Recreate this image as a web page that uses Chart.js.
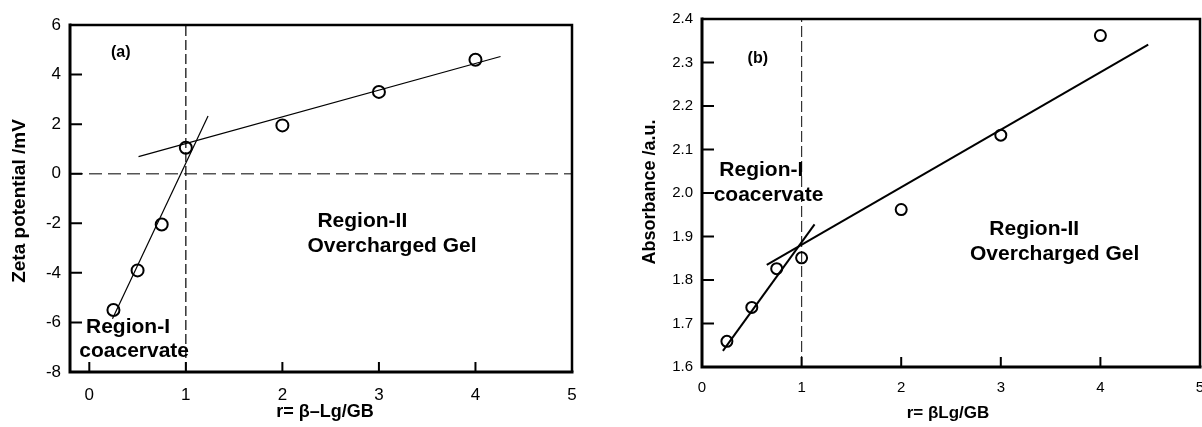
<!DOCTYPE html>
<html>
<head>
<meta charset="utf-8">
<script src="https://cdn.jsdelivr.net/npm/chart.js@4"></script>
<style>
  html, body { margin: 0; padding: 0; background: #fff; }
  #wrap { position: relative; width: 1202px; height: 427px; overflow: hidden; }
  #chartA { position: absolute; left: 0; top: 0; }
  #chartB { position: absolute; left: 600px; top: 0; }
</style>
</head>
<body>
<div id="wrap">
  <canvas id="chartA" width="590" height="427"></canvas>
  <canvas id="chartB" width="602" height="427"></canvas>
</div>
<script>
// (a) zeta potential vs ratio
const ratioA = [0.25, 0.5, 0.75, 1, 2, 3, 4]
const zeta = [-5.5, -3.9, -2.05, 1.05, 1.95, 3.3, 4.6]
// fitted lines, end points
const fitA1X = [0.24, 1.23]
const fitA1Y = [-5.85, 2.33]
const fitA2X = [0.51, 4.26]
const fitA2Y = [0.69, 4.73]
const xTicksA = [0, 1, 2, 3, 4, 5]
const yTicksA = [-8, -6, -4, -2, 0, 2, 4, 6]

// (b) absorbance vs ratio
const ratioB = [0.25, 0.5, 0.75, 1, 2, 3, 4]
const absorb = [1.659, 1.737, 1.826, 1.851, 1.962, 2.133, 2.362]
const fitB1X = [0.21, 1.13]
const fitB1Y = [1.637, 1.928]
const fitB2X = [0.65, 4.48]
const fitB2Y = [1.835, 2.341]
const xTicksB = [0, 1, 2, 3, 4, 5]
const yTicksB = [1.6, 1.7, 1.8, 1.9, 2.0, 2.1, 2.2, 2.3, 2.4]

Chart.defaults.font.family = '"Liberation Sans", Arial, sans-serif'
Chart.defaults.color = '#000'

const toPts = (xs, ys) => xs.map((x, i) => ({ x: x, y: ys[i] }))

// frame, inward tick marks, text labels and axis titles
const framePlugin = {
  id: 'framePlugin',
  afterDatasetsDraw(chart, args, o) {
    const { ctx, chartArea: { left, top, right, bottom }, scales: { x, y } } = chart
    ctx.save()
    ctx.strokeStyle = '#000'
    ctx.lineWidth = 2
    ctx.beginPath()
    x.ticks.forEach(t => {
      const px = x.getPixelForValue(t.value)
      if (px > left + 3 && px < right - 3) {
        ctx.moveTo(px, bottom)
        ctx.lineTo(px, bottom - o.xTickLen)
      }
    })
    y.ticks.forEach(t => {
      const py = y.getPixelForValue(t.value)
      if (py > top + 3 && py < bottom - 3) {
        ctx.moveTo(left, py)
        ctx.lineTo(left + o.yTickLen, py)
      }
    })
    ctx.stroke()
    // thin top / right
    ctx.lineWidth = 2.5
    ctx.beginPath()
    ctx.moveTo(left, top)
    ctx.lineTo(right, top)
    ctx.lineTo(right, bottom)
    ctx.stroke()
    // heavy left / bottom
    ctx.lineWidth = 3
    ctx.beginPath()
    ctx.moveTo(left, top - 1.5)
    ctx.lineTo(left, bottom)
    ctx.lineTo(right + 1.5, bottom)
    ctx.stroke()

    ctx.fillStyle = '#000'
    ctx.textBaseline = 'middle'
    ctx.textAlign = 'left'
    o.notes.forEach(n => {
      ctx.font = 'bold ' + n.size + 'px "Liberation Sans", Arial, sans-serif'
      ctx.fillText(n.text, x.getPixelForValue(n.x), y.getPixelForValue(n.y))
    })

    ctx.textAlign = 'center'
    ctx.font = 'bold ' + o.xTitle.size + 'px "Liberation Sans", Arial, sans-serif'
    ctx.fillText(o.xTitle.text, o.xTitle.px, o.xTitle.py)
    ctx.save()
    ctx.translate(o.yTitle.px, o.yTitle.py)
    ctx.rotate(-Math.PI / 2)
    ctx.font = 'bold ' + o.yTitle.size + 'px "Liberation Sans", Arial, sans-serif'
    ctx.fillText(o.yTitle.text, 0, 0)
    ctx.restore()
    ctx.restore()
  },
}

function makeChart(id, s) {
  const ctx = document.getElementById(id).getContext('2d')
  const datasets = [
    {
      data: s.points,
      showLine: false,
      pointStyle: 'circle',
      pointRadius: s.pointRadius,
      pointBorderWidth: 2,
      pointBorderColor: '#000',
      pointBackgroundColor: 'rgba(0,0,0,0)',
    },
  ]
  s.fits.forEach(f => {
    datasets.push({
      data: f,
      showLine: true,
      borderColor: '#000',
      borderWidth: s.fitWidth,
      pointRadius: 0,
    })
  })
  s.dashes.forEach(d => {
    datasets.push({
      data: d.data,
      showLine: true,
      borderColor: d.color,
      borderWidth: d.width,
      borderDash: d.dash,
      pointRadius: 0,
    })
  })

  return new Chart(ctx, {
    type: 'scatter',
    data: { datasets: datasets },
    options: {
      responsive: false,
      animation: false,
      layout: { padding: s.padding, autoPadding: false },
      plugins: {
        legend: { display: false },
        tooltip: { enabled: false },
        framePlugin: s.frame,
      },
      scales: {
        x: {
          type: 'linear',
          min: s.xMin,
          max: s.xMax,
          grid: { display: false, drawTicks: false },
          border: { display: false },
          afterBuildTicks: sc => { sc.ticks = s.xTicks.map(v => ({ value: v })) },
          // fixed axis box; let the last label hang over the edge
          afterFit: sc => {
            sc.height = s.xAxisH
            sc.paddingLeft = 0
            sc.paddingRight = 0
          },
          ticks: {
            padding: s.xPad,
            font: { size: s.tickSize },
            maxRotation: 0,
            callback: v => String(v),
          },
        },
        y: {
          type: 'linear',
          min: s.yMin,
          max: s.yMax,
          grid: { display: false, drawTicks: false },
          border: { display: false },
          afterBuildTicks: sc => { sc.ticks = s.yTicks.map(v => ({ value: v })) },
          afterFit: sc => {
            sc.width = s.yAxisW
            sc.paddingTop = 0
            sc.paddingBottom = 0
          },
          ticks: {
            padding: s.yPad,
            font: { size: s.tickSize },
            callback: s.yFmt,
          },
        },
      },
    },
    plugins: [framePlugin],
  })
}

makeChart('chartA', {
  points: toPts(ratioA, zeta),
  fits: [toPts(fitA1X, fitA1Y), toPts(fitA2X, fitA2Y)],
  dashes: [
    { data: [{ x: 1, y: -8 }, { x: 1, y: 6 }], color: '#000', width: 1.2, dash: [10, 4] },
    { data: [{ x: -0.2, y: 0 }, { x: 5, y: 0 }], color: '#555', width: 1.5, dash: [13, 6] },
  ],
  pointRadius: 6,
  fitWidth: 1.2,
  xMin: -0.2, xMax: 5, yMin: -8, yMax: 6,
  xTicks: xTicksA, yTicks: yTicksA,
  yFmt: v => String(v),
  padding: { left: 0, top: 25, right: 18, bottom: 0 },
  xAxisH: 55, yAxisW: 70,
  xPad: 13, yPad: 9, tickSize: 17,
  frame: {
    xTickLen: 10, yTickLen: 12,
    notes: [
      { text: '(a)', x: 0.225, y: 4.9, size: 16 },
      { text: 'Region-I', x: -0.034, y: -6.21, size: 21 },
      { text: 'coacervate', x: -0.104, y: -7.18, size: 21 },
      { text: 'Region-II', x: 2.363, y: -1.9, size: 21 },
      { text: 'Overcharged Gel', x: 2.259, y: -2.91, size: 21 },
    ],
    xTitle: { text: 'r= β–Lg/GB', px: 325, py: 412, size: 18 },
    yTitle: { text: 'Zeta potential /mV', px: 20, py: 201, size: 19 },
  },
})

makeChart('chartB', {
  points: toPts(ratioB, absorb),
  fits: [toPts(fitB1X, fitB1Y), toPts(fitB2X, fitB2Y)],
  dashes: [
    { data: [{ x: 1, y: 1.6 }, { x: 1, y: 2.4 }], color: '#333', width: 1.2, dash: [11, 4] },
  ],
  pointRadius: 5.5,
  fitWidth: 2,
  xMin: 0, xMax: 5, yMin: 1.6, yMax: 2.4,
  xTicks: xTicksB, yTicks: yTicksB,
  yFmt: v => v.toFixed(1),
  padding: { left: 0, top: 19, right: 2, bottom: 0 },
  xAxisH: 60, yAxisW: 102,
  xPad: 12, yPad: 9, tickSize: 15,
  frame: {
    xTickLen: 10, yTickLen: 12,
    notes: [
      { text: '(b)', x: 0.458, y: 2.31, size: 16 },
      { text: 'Region-I', x: 0.174, y: 2.052, size: 21 },
      { text: 'coacervate', x: 0.117, y: 1.996, size: 21 },
      { text: 'Region-II', x: 2.885, y: 1.916, size: 21 },
      { text: 'Overcharged Gel', x: 2.691, y: 1.859, size: 21 },
    ],
    xTitle: { text: 'r= βLg/GB', px: 348, py: 413, size: 17 },
    yTitle: { text: 'Absorbance /a.u.', px: 50, py: 192, size: 18 },
  },
})
</script>
</body>
</html>
